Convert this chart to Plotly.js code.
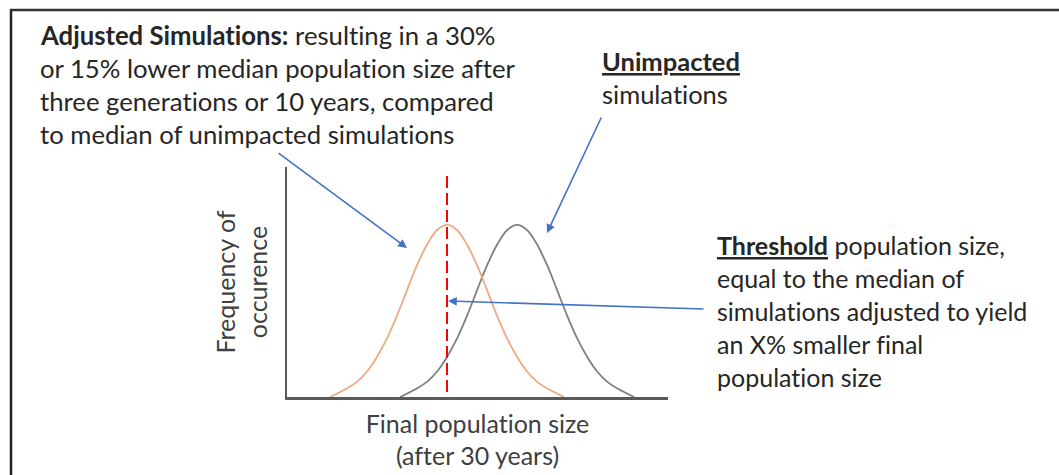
<!DOCTYPE html>
<html>
<head>
<meta charset="utf-8">
<script src="https://cdn.plot.ly/plotly-3.0.1.min.js"></script>
<style>html,body{margin:0;padding:0;background:#fff;}#chart{width:1059px;height:475px;}
#chart text{font-variant-ligatures:none;font-feature-settings:"liga" 0,"clig" 0,"dlig" 0;}</style>
</head>
<body>
<div id="chart"></div>
<script>
// ---- Data (arbitrary units) ----
const adjustedX = [11.3, 15.8, 18.4, 21.0, 23.6, 26.3, 28.9, 31.5, 34.1, 36.8, 39.4, 42.0, 44.6, 47.2, 49.9, 52.5, 55.1, 57.7, 60.4, 63.0, 65.6, 68.2, 72.7];
const adjustedY = [0, 3.8, 6.7, 11.1, 17.4, 25.7, 35.5, 46.5, 57.2, 66.4, 72.6, 74.8, 72.6, 66.4, 57.2, 46.5, 35.5, 25.7, 17.4, 11.1, 6.7, 3.8, 0];
const unimpactedX = [29.7, 34.2, 36.8, 39.4, 42.0, 44.7, 47.3, 49.9, 52.5, 55.2, 57.8, 60.4, 63.0, 65.6, 68.3, 70.9, 73.5, 76.1, 78.8, 81.4, 84.0, 86.6, 91.1];
const unimpactedY = [0, 3.8, 6.7, 11.1, 17.4, 25.7, 35.5, 46.5, 57.2, 66.4, 72.6, 74.8, 72.6, 66.4, 57.2, 46.5, 35.5, 25.7, 17.4, 11.1, 6.7, 3.8, 0];
const thresholdX = [42.0, 42.0];
const thresholdY = [2.2, 96.5];

const adjustedLines = ['<b>Adjusted Simulations:</b> resulting in a 30%', 'or 15% lower median population size after', 'three generations or 10 years, compared', 'to median of unimpacted simulations'];
const unimpactedLines = ['<b><u>Unimpacted</u></b>', 'simulations'];
const thresholdLines = ['<b><u>Threshold</u></b> population size,', 'equal to the median of', 'simulations adjusted to yield', 'an X% smaller final', 'population size'];
const xTitle = 'Final population size<br>(after 30 years)';
const yTitle = 'Frequency of<br>occurence';

// ---- Layout helpers (pixel -> paper) ----
const W = 1059, H = 475;
const M = {l: 287, r: 391, t: 167, b: 78};
const PW = W - M.l - M.r, PH = H - M.t - M.b;
const px = x => (x - M.l) / PW;
const py = y => (H - M.b - y) / PH;

const FONT = 'Lato, Carlito, Calibri, sans-serif';
const TXT = '#262626';
const BLUE = '#4472C4';

const annotations = [];
function addLines(lines, left, centers, size) {
  lines.forEach((t, i) => annotations.push({
    xref: 'paper', yref: 'paper', x: px(left), y: py(centers[i]),
    xanchor: 'left', yanchor: 'middle', showarrow: false, align: 'left',
    text: t, font: {family: FONT, size: size, color: TXT}
  }));
}
addLines(adjustedLines, 38, [35, 68, 101, 134], 25.7);
addLines(unimpactedLines, 600, [61, 94], 25.5);
addLines(thresholdLines, 715, [245, 278, 311, 344, 377], 25);

function addArrow(hx, hy, tx, ty) {
  annotations.push({
    xref: 'paper', yref: 'paper', x: px(hx), y: py(hy),
    axref: 'pixel', ayref: 'pixel', ax: tx - hx, ay: ty - hy,
    text: '', showarrow: true, arrowhead: 2, arrowsize: 1.1, arrowwidth: 1.6,
    arrowcolor: BLUE, standoff: 0, startstandoff: 0
  });
}
addArrow(407, 248, 277, 152);
addArrow(547, 233, 602, 116);
addArrow(448, 301, 705, 309);

const shapes = [
  {type: 'line', xref: 'paper', yref: 'paper', x0: px(11), x1: px(11), y0: py(9), y1: py(480), line: {color: '#222', width: 2.5}},
  {type: 'line', xref: 'paper', yref: 'paper', x0: px(10), x1: px(1065), y0: py(10), y1: py(10), line: {color: '#333', width: 2.5}}
];

const traces = [
  {x: unimpactedX, y: unimpactedY, type: 'scatter', mode: 'lines', name: 'Unimpacted simulations',
   line: {color: '#808080', width: 1.8, shape: 'spline'}, hoverinfo: 'skip'},
  {x: adjustedX, y: adjustedY, type: 'scatter', mode: 'lines', name: 'Adjusted simulations',
   line: {color: '#EDAA82', width: 1.8, shape: 'spline'}, hoverinfo: 'skip'},
  {x: thresholdX, y: thresholdY, type: 'scatter', mode: 'lines', name: 'Threshold',
   line: {color: '#FF0000', width: 2, dash: '12px,5px'}, hoverinfo: 'skip'}
];

const layout = {
  width: W, height: H,
  margin: M,
  paper_bgcolor: '#fff', plot_bgcolor: '#fff',
  showlegend: false,
  font: {family: FONT, color: TXT},
  xaxis: {range: [0, 100], showline: true, linecolor: '#595959', linewidth: 2.5,
          showgrid: false, zeroline: false, showticklabels: false, ticks: '',
          title: {text: xTitle, font: {family: FONT, size: 25, color: '#404040'}, standoff: 17}},
  yaxis: {range: [0, 100], showline: true, linecolor: '#595959', linewidth: 2.5,
          showgrid: false, zeroline: false, showticklabels: false, ticks: '',
          title: {text: yTitle, font: {family: FONT, size: 25, color: '#404040'}, standoff: 10}},
  annotations: annotations,
  shapes: shapes
};

Plotly.newPlot('chart', traces, layout, {displayModeBar: false, staticPlot: true});
</script>
</body>
</html>
